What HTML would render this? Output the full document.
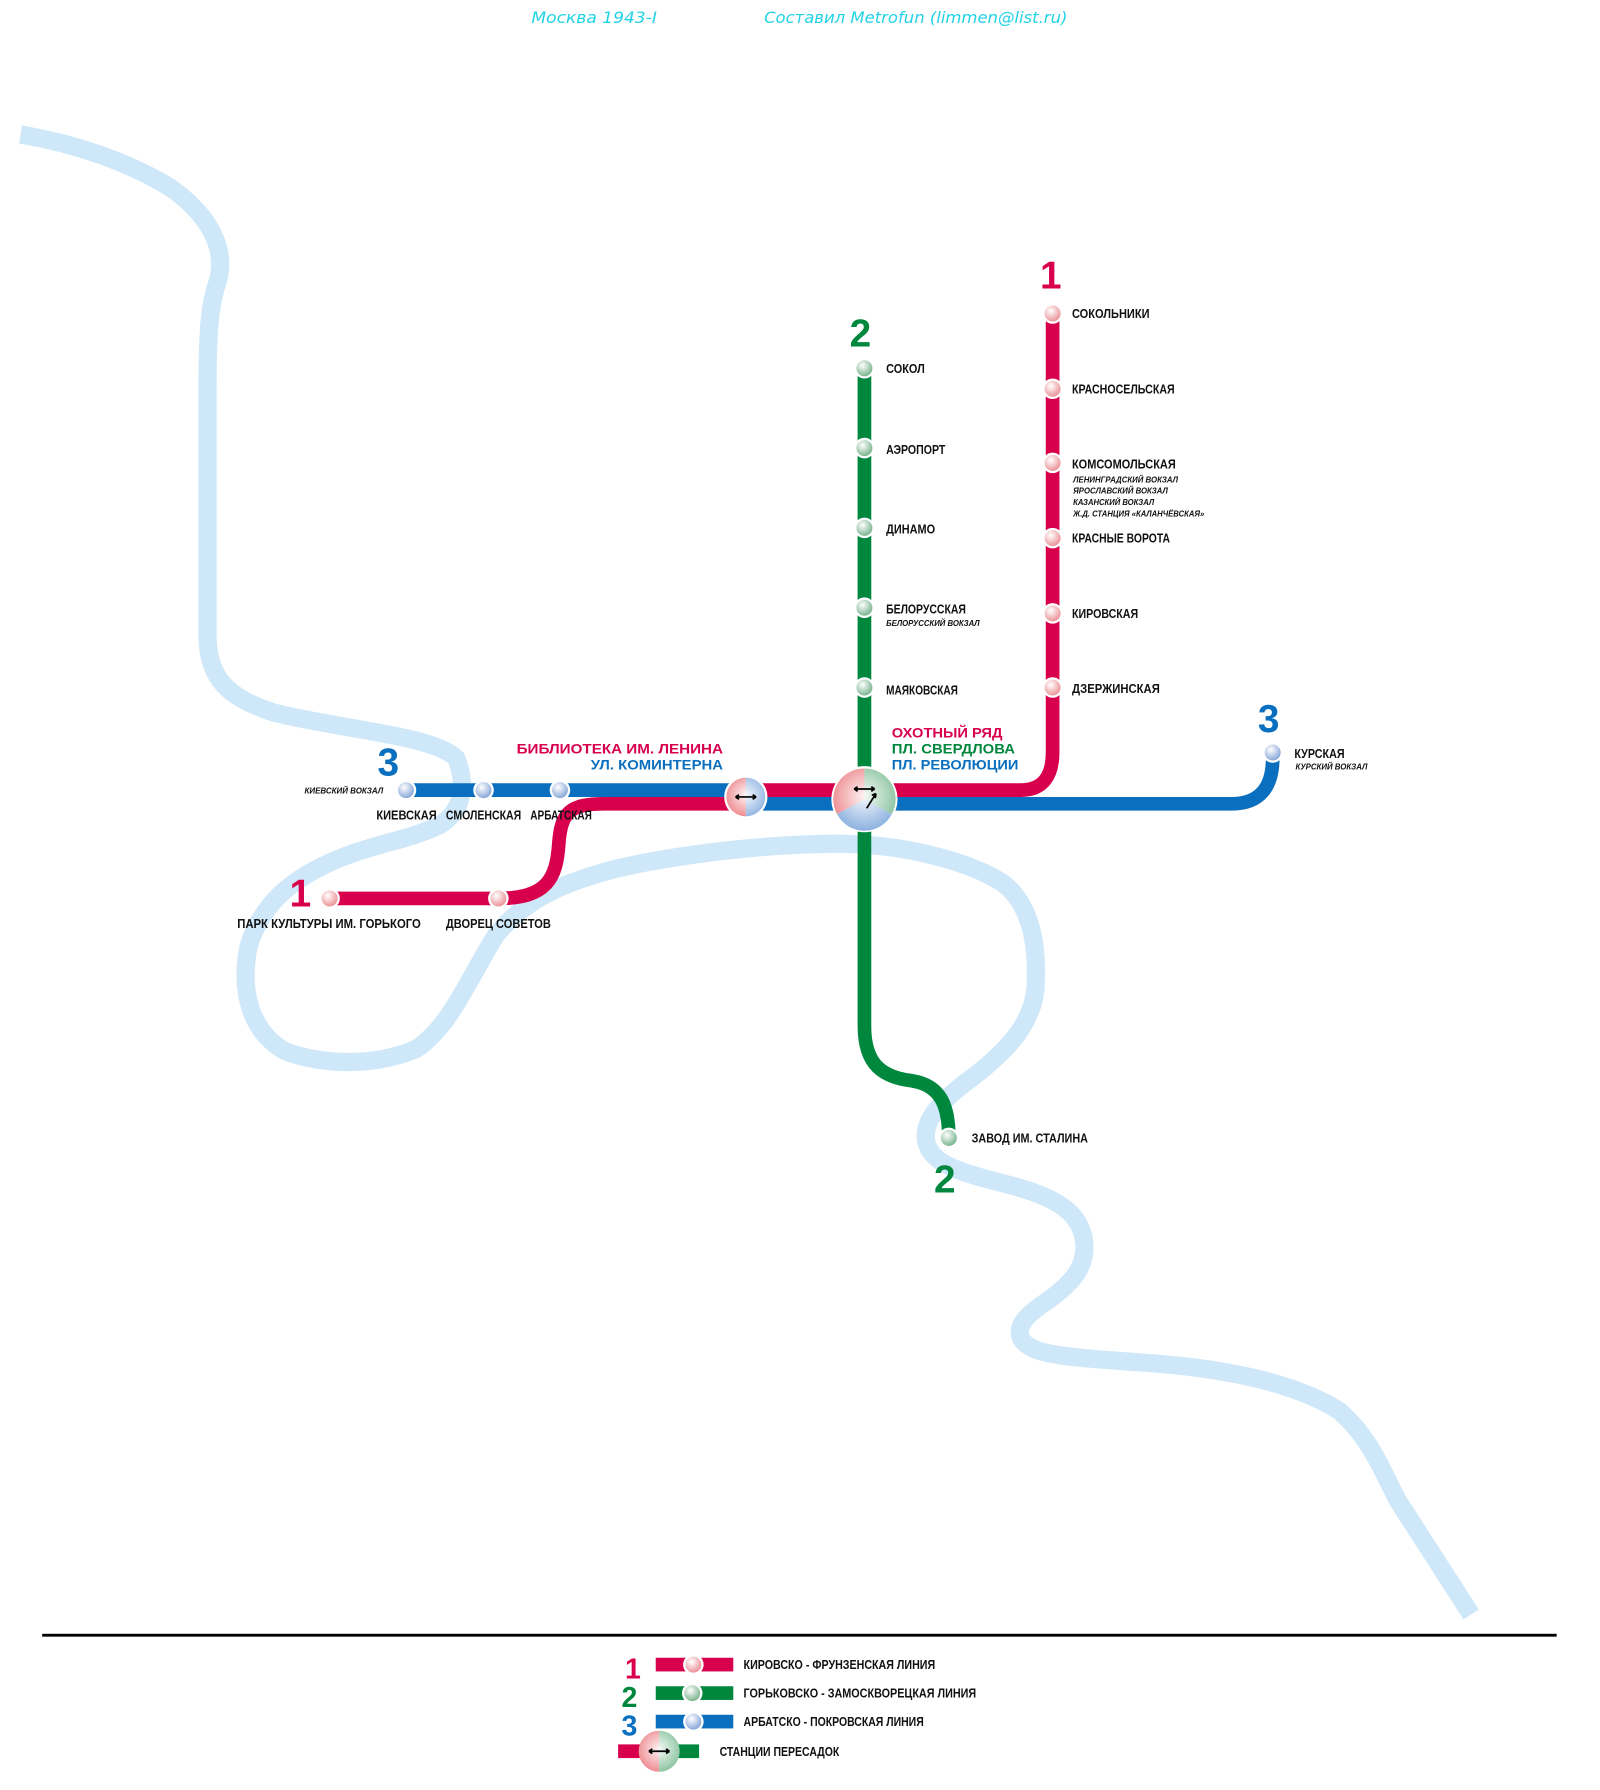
<!DOCTYPE html>
<html><head><meta charset="utf-8"><style>
html,body{margin:0;padding:0;background:#fff;}
svg{display:block;}
text{font-family:"Liberation Sans",sans-serif;font-weight:bold;}
.st{font-size:11.5px;fill:#111;}
.sm{font-size:7px;font-style:italic;fill:#111;}
.num{font-family:"Liberation Sans",sans-serif;font-size:34px;font-weight:bold;}
.big{font-size:12.5px;}
</style></head><body>
<svg width="1600" height="1790" viewBox="0 0 1403 1570" preserveAspectRatio="none" xmlns="http://www.w3.org/2000/svg">
<defs>
<radialGradient id="gr" cx="40%" cy="35%" r="65%"><stop offset="0" stop-color="#fff"/><stop offset="1" stop-color="#e98a8f"/></radialGradient>
<radialGradient id="gg" cx="40%" cy="35%" r="65%"><stop offset="0" stop-color="#fff"/><stop offset="1" stop-color="#6fae85"/></radialGradient>
<radialGradient id="gb" cx="40%" cy="35%" r="65%"><stop offset="0" stop-color="#fff"/><stop offset="1" stop-color="#7e9fd4"/></radialGradient>
<radialGradient id="gw" cx="50%" cy="45%" r="55%"><stop offset="0" stop-color="#fff" stop-opacity="0.9"/><stop offset="1" stop-color="#fff" stop-opacity="0"/></radialGradient>
</defs>
<text x="466" y="20" textLength="110" lengthAdjust="spacingAndGlyphs" style="font-family:'DejaVu Sans',sans-serif;font-size:14px;font-weight:normal;font-style:italic;fill:#22d3e6">Москва 1943-I</text>
<text x="670" y="20" textLength="266" lengthAdjust="spacingAndGlyphs" style="font-family:'DejaVu Sans',sans-serif;font-size:14px;font-weight:normal;font-style:italic;fill:#22d3e6">Составил Metrofun (limmen@list.ru)</text>
<!-- river -->
<path d="M18,118 C60,125 110,140 150,165 C185,190 200,220 190,250 C183,270 182,300 182,340 L182,560 C183,595 200,612 240,625 C300,640 380,645 400,665 C410,690 405,712 385,724 C360,736 330,740 300,752 C260,768 230,790 218,830 C210,870 220,905 250,922 C285,935 330,935 365,920 C395,900 410,860 435,820 C460,790 490,775 540,762 C600,748 680,740 735,740 C790,740 850,755 880,775 C905,795 910,830 908,867 C905,900 880,925 846,950 C820,970 810,985 812,1000 C815,1020 840,1028 880,1038 C920,1048 945,1060 950,1085 C955,1110 940,1125 920,1140 C900,1153 890,1163 896,1175 C905,1188 930,1190 1000,1195 C1080,1200 1140,1215 1175,1238 C1200,1260 1210,1285 1225,1315 L1290,1416" fill="none" stroke="#cfe8f9" stroke-width="16"/>
<!-- lines -->
<g fill="none" stroke-width="12">
<path d="M356,693 L640,693" stroke="#0a6fbf"/>
<path d="M289,788 L437,788 C480,788 488,770 490,740 C492,712 500,705 530,705 L650,705" stroke="#d8004d"/>
<path d="M650,693 L895,693 C915,693 923,680 923,660 L923,275" stroke="#d8004d"/>
<path d="M650,705 L1080,705 C1105,705 1116,690 1116,665" stroke="#0a6fbf"/>
<path d="M758,323 L758,900 C758,935 775,945 800,948 C825,952 832,970 832,998" stroke="#00873e"/>
</g>
<!-- stations -->
<g stroke="#fff" stroke-width="2">
<g fill="url(#gr)"><circle cx="923" cy="275" r="8"/><circle cx="923" cy="341" r="8"/><circle cx="923" cy="406" r="8"/><circle cx="923" cy="472" r="8"/><circle cx="923" cy="538" r="8"/><circle cx="923" cy="603" r="8"/><circle cx="289" cy="788" r="8"/><circle cx="437" cy="788" r="8"/></g>
<g fill="url(#gg)"><circle cx="758" cy="323" r="8"/><circle cx="758" cy="393" r="8"/><circle cx="758" cy="463" r="8"/><circle cx="758" cy="533" r="8"/><circle cx="758" cy="603" r="8"/><circle cx="832" cy="998" r="8"/></g>
<g fill="url(#gb)"><circle cx="356" cy="693" r="8"/><circle cx="424" cy="693" r="8"/><circle cx="491" cy="693" r="8"/><circle cx="1116" cy="660" r="8"/></g>
</g>
<!-- Lenin interchange -->
<circle cx="654" cy="699" r="19" fill="#fff"/>
<path d="M654,682 A17,17 0 0,0 654,716 Z" fill="#ee8d92"/>
<path d="M654,682 A17,17 0 0,1 654,716 Z" fill="#94b6e2"/>
<circle cx="654" cy="699" r="17" fill="url(#gw)"/>
<path d="M645,699 H663 M645,699 l3,-2 M645,699 l3,2 M663,699 l-3,-2 M663,699 l-3,2" stroke="#000" stroke-width="1.5" fill="none"/>
<!-- Okhotny interchange -->
<circle cx="758" cy="701" r="29" fill="#fff"/>
<path d="M758,701 L758,674 A27,27 0 0,0 734,714 Z" fill="#ee8d92"/>
<path d="M758,701 L758,674 A27,27 0 0,1 782,714 Z" fill="#8cc4a0"/>
<path d="M758,701 L734,714 A27,27 0 0,0 782,714 Z" fill="#8fb3e0"/>
<circle cx="758" cy="701" r="27" fill="url(#gw)"/>
<path d="M749,692 H767 M749,692 l3,-2 M749,692 l3,2 M767,692 l-3,-2 M767,692 l-3,2 M768,696 L760,709 M768,696 l-0.5,4 M768,696 l-3.5,1.5" stroke="#000" stroke-width="1.5" fill="none"/>
<!-- numbers -->
<text class="num" x="912" y="253" fill="#d8004d">1</text>
<text class="num" x="745" y="304" fill="#00873e">2</text>
<text class="num" x="1103" y="642" fill="#0a6fbf">3</text>
<text class="num" x="331" y="680" fill="#0a6fbf">3</text>
<text class="num" x="254" y="795" fill="#d8004d">1</text>
<text class="num" x="819" y="1046" fill="#00873e">2</text>
<!-- labels -->
<text class="st" x="940" y="279" textLength="68" lengthAdjust="spacingAndGlyphs">СОКОЛЬНИКИ</text>
<text class="st" x="940" y="345" textLength="90" lengthAdjust="spacingAndGlyphs">КРАСНОСЕЛЬСКАЯ</text>
<text class="st" x="940" y="411" textLength="91" lengthAdjust="spacingAndGlyphs">КОМСОМОЛЬСКАЯ</text>
<text class="sm" x="941" y="423" textLength="92" lengthAdjust="spacingAndGlyphs">ЛЕНИНГРАДСКИЙ ВОКЗАЛ</text>
<text class="sm" x="941" y="433" textLength="83" lengthAdjust="spacingAndGlyphs">ЯРОСЛАВСКИЙ ВОКЗАЛ</text>
<text class="sm" x="941" y="443" textLength="71" lengthAdjust="spacingAndGlyphs">КАЗАНСКИЙ ВОКЗАЛ</text>
<text class="sm" x="941" y="453" textLength="115" lengthAdjust="spacingAndGlyphs">Ж.Д. СТАНЦИЯ «КАЛАНЧЁВСКАЯ»</text>
<text class="st" x="940" y="476" textLength="86" lengthAdjust="spacingAndGlyphs">КРАСНЫЕ ВОРОТА</text>
<text class="st" x="940" y="542" textLength="58" lengthAdjust="spacingAndGlyphs">КИРОВСКАЯ</text>
<text class="st" x="940" y="608" textLength="77" lengthAdjust="spacingAndGlyphs">ДЗЕРЖИНСКАЯ</text>
<text class="st" x="777" y="327" textLength="34" lengthAdjust="spacingAndGlyphs">СОКОЛ</text>
<text class="st" x="777" y="398" textLength="52" lengthAdjust="spacingAndGlyphs">АЭРОПОРТ</text>
<text class="st" x="777" y="468" textLength="43" lengthAdjust="spacingAndGlyphs">ДИНАМО</text>
<text class="st" x="777" y="538" textLength="70" lengthAdjust="spacingAndGlyphs">БЕЛОРУССКАЯ</text>
<text class="sm" x="777" y="549" textLength="82" lengthAdjust="spacingAndGlyphs">БЕЛОРУССКИЙ ВОКЗАЛ</text>
<text class="st" x="777" y="609" textLength="63" lengthAdjust="spacingAndGlyphs">МАЯКОВСКАЯ</text>
<text class="st" x="852" y="1002" textLength="102" lengthAdjust="spacingAndGlyphs">ЗАВОД ИМ. СТАЛИНА</text>
<text class="st" x="1135" y="665" textLength="44" lengthAdjust="spacingAndGlyphs">КУРСКАЯ</text>
<text class="sm" x="1136" y="675" textLength="63" lengthAdjust="spacingAndGlyphs">КУРСКИЙ ВОКЗАЛ</text>
<text class="sm" x="267" y="696" textLength="69" lengthAdjust="spacingAndGlyphs">КИЕВСКИЙ ВОКЗАЛ</text>
<text class="st" x="330" y="719" textLength="53" lengthAdjust="spacingAndGlyphs">КИЕВСКАЯ</text>
<text class="st" x="391" y="719" textLength="66" lengthAdjust="spacingAndGlyphs">СМОЛЕНСКАЯ</text>
<text class="st" x="465" y="719" textLength="54" lengthAdjust="spacingAndGlyphs">АРБАТСКАЯ</text>
<text class="st" x="208" y="814" textLength="161" lengthAdjust="spacingAndGlyphs">ПАРК КУЛЬТУРЫ ИМ. ГОРЬКОГО</text>
<text class="st" x="391" y="814" textLength="92" lengthAdjust="spacingAndGlyphs">ДВОРЕЦ СОВЕТОВ</text>
<text class="big" x="453" y="661" textLength="181" lengthAdjust="spacingAndGlyphs" fill="#d8004d">БИБЛИОТЕКА ИМ. ЛЕНИНА</text>
<text class="big" x="518" y="675" textLength="116" lengthAdjust="spacingAndGlyphs" fill="#0a6fbf">УЛ. КОМИНТЕРНА</text>
<text class="big" x="782" y="647" textLength="97" lengthAdjust="spacingAndGlyphs" fill="#d8004d">ОХОТНЫЙ РЯД</text>
<text class="big" x="782" y="661" textLength="108" lengthAdjust="spacingAndGlyphs" fill="#00873e">ПЛ. СВЕРДЛОВА</text>
<text class="big" x="782" y="675" textLength="111" lengthAdjust="spacingAndGlyphs" fill="#0a6fbf">ПЛ. РЕВОЛЮЦИИ</text>
<!-- legend -->
<rect x="37" y="1433" width="1328" height="2.5" fill="#000"/>
<text class="num" x="548" y="1472" style="font-size:25px" fill="#d8004d">1</text>
<text class="num" x="545" y="1497" style="font-size:25px" fill="#00873e">2</text>
<text class="num" x="545" y="1522" style="font-size:25px" fill="#0a6fbf">3</text>
<rect x="575" y="1454" width="68" height="12" fill="#d8004d"/>
<rect x="575" y="1479" width="68" height="12" fill="#00873e"/>
<rect x="575" y="1504" width="68" height="12" fill="#0a6fbf"/>
<g stroke="#fff" stroke-width="2">
<circle cx="608" cy="1460" r="8" fill="url(#gr)"/>
<circle cx="607" cy="1485" r="8" fill="url(#gg)"/>
<circle cx="608" cy="1510" r="8" fill="url(#gb)"/>
</g>
<rect x="542" y="1530" width="20" height="12" fill="#d8004d"/>
<rect x="593" y="1530" width="20" height="12" fill="#00873e"/>
<path d="M578,1518 A18,18 0 0,0 578,1554 Z" fill="#ee8d92"/>
<path d="M578,1518 A18,18 0 0,1 578,1554 Z" fill="#8cc4a0"/>
<circle cx="578" cy="1536" r="18" fill="url(#gw)"/>
<path d="M569,1536 H587 M569,1536 l3,-2 M569,1536 l3,2 M587,1536 l-3,-2 M587,1536 l-3,2" stroke="#000" stroke-width="1.5" fill="none"/>
<text class="st" x="652" y="1464" textLength="168" lengthAdjust="spacingAndGlyphs">КИРОВСКО - ФРУНЗЕНСКАЯ ЛИНИЯ</text>
<text class="st" x="652" y="1489" textLength="204" lengthAdjust="spacingAndGlyphs">ГОРЬКОВСКО - ЗАМОСКВОРЕЦКАЯ ЛИНИЯ</text>
<text class="st" x="652" y="1514" textLength="158" lengthAdjust="spacingAndGlyphs">АРБАТСКО - ПОКРОВСКАЯ ЛИНИЯ</text>
<text class="st" x="631" y="1540" textLength="105" lengthAdjust="spacingAndGlyphs">СТАНЦИИ ПЕРЕСАДОК</text>
</svg>
</body></html>
